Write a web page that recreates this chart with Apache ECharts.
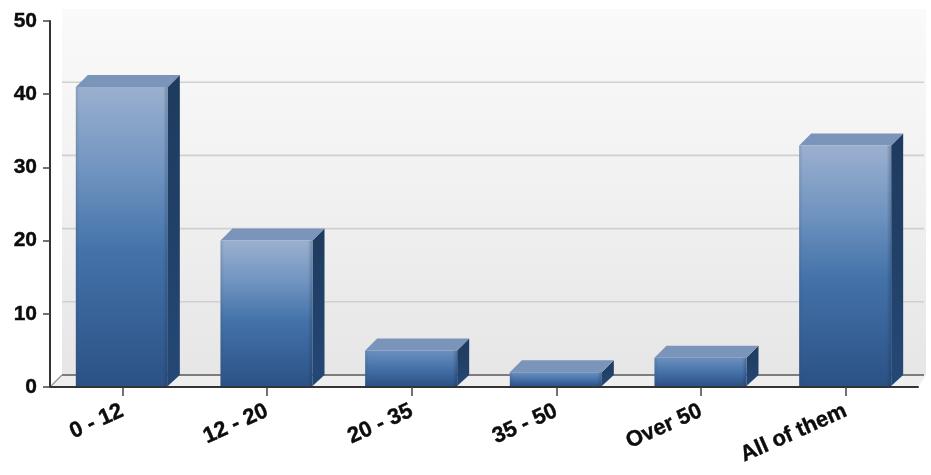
<!DOCTYPE html>
<html><head><meta charset="utf-8">
<style>html,body{margin:0;padding:0;background:#fff}#c{width:931px;height:475px;filter:blur(0.7px)}</style>
<script src="https://cdn.jsdelivr.net/npm/echarts@6/dist/echarts.min.js"></script>
</head><body><div id="c"></div>
<script>
const categories = ['0 - 12','12 - 20','20 - 35','35 - 50','Over 50','All of them'];
const values = [41, 20, 5, 2, 4, 33];
const yTicks = [0, 10, 20, 30, 40, 50];
const DEPTH = 12, BAR_W = 92;
const LG = (x0,y0,x1,y1,stops)=>({type:'linear',x:x0,y:y0,x2:x1,y2:y1,global:false,
  colorStops:stops.map(s=>({offset:s[0],color:s[1]}))});
const chart = echarts.init(document.getElementById('c'),null,{renderer:'canvas'});

function wallItem(params, api){
  const v = api.value(1);
  const p = api.coord([0, v]);
  const left = params.coordSys.x, right = left + params.coordSys.width;
  const children = [];
  if (params.dataIndex === 0){
    const top = params.coordSys.y, bottom = top + params.coordSys.height;
    children.push({type:'rect',shape:{x:left+DEPTH,y:top-DEPTH,width:right-left-DEPTH+8,height:bottom-top},
      style:{fill:LG(0,0,0,1,[[0,'#fafafa'],[0.5,'#f1f1f2'],[1,'#e6e6e7']])}});
    children.push({type:'polygon',shape:{points:[[left,bottom],[left+DEPTH,bottom-DEPTH],[right+8,bottom-DEPTH],[right,bottom]]},
      style:{fill:'#eeeeee'}});
    children.push({type:'line',shape:{x1:left,y1:bottom,x2:left+DEPTH,y2:bottom-DEPTH},style:{stroke:'#9a9a9a',lineWidth:1.5}});
    children.push({type:'line',shape:{x1:left+DEPTH,y1:bottom-DEPTH,x2:right+6,y2:bottom-DEPTH},style:{stroke:'#7d7d7d',lineWidth:2}});
  } else if (v < 50) {
    children.push({type:'line',shape:{x1:left+DEPTH,y1:p[1]-DEPTH,x2:right+6,y2:p[1]-DEPTH},style:{stroke:'#d0d0d0',lineWidth:1.6}});
  }
  return {type:'group',children};
}
function barItem(params, api){
  const c = api.coord([api.value(0), api.value(1)]);
  const base = api.coord([api.value(0), 0]);
  const x0 = c[0] - BAR_W/2 - 0.5, x1 = x0 + BAR_W, yt = c[1], yb = base[1];
  const short = (yb - yt) < 60;
  return {type:'group',children:[
    {type:'polygon',shape:{points:[[x1,yt],[x1+DEPTH,yt-DEPTH],[x1+DEPTH,yb-DEPTH],[x1,yb-1]]},
      style:{fill:LG(0,0,0,1,[[0,'#1f3a5e'],[0.6,'#22426b'],[1,'#244876']])}},
    {type:'polygon',shape:{points:[[x0,yt],[x0+DEPTH,yt-DEPTH],[x1+DEPTH,yt-DEPTH],[x1,yt]]},
      style:{fill:'#7a94ba'}},
    {type:'rect',shape:{x:x0,y:yt,width:BAR_W,height:yb-yt},
      style:{fill:LG(0,0,0,1, short
        ? [[0,'#6c90bf'],[0.5,'#4571a8'],[1,'#2a4f84']]
        : [[0,'#9bb0cf'],[0.28,'#7094c0'],[0.55,'#4372a9'],[1,'#2b5185']])}},
    {type:'rect',shape:{x:x0,y:yt,width:BAR_W,height:yb-yt},
      style:{fill:LG(0,0,1,0,[[0,'rgba(60,70,90,0.2)'],[0.04,'rgba(60,70,90,0)'],[0.95,'rgba(20,40,70,0)'],[1,'rgba(20,40,70,0.3)']])}}
  ]};
}
const labelFont = {fontFamily:'"Liberation Sans",Arial,sans-serif',fontWeight:'bold',color:'#0c0c0c',
  textBorderColor:'#0c0c0c',textBorderWidth:0.4};
chart.setOption({
  animation:false,
  backgroundColor:'#ffffff',
  grid:{left:50,top:21,width:868,height:366,containLabel:false},
  xAxis:{type:'category',data:categories,boundaryGap:true,z:10,
    axisLine:{lineStyle:{color:'#333',width:2}},
    axisTick:{show:true,alignWithLabel:true,length:9,lineStyle:{color:'#444',width:1.5}},
    axisLabel:{...labelFont,fontSize:22,rotate:24,margin:23,interval:0},
    splitLine:{show:false}},
  yAxis:{type:'value',min:0,max:50,interval:10,z:10,
    axisLine:{show:true,lineStyle:{color:'#333',width:2}},
    axisTick:{show:true,length:7,lineStyle:{color:'#444',width:1.5}},
    axisLabel:{...labelFont,fontSize:21,margin:13},
    splitLine:{show:false}},
  series:[
    {type:'custom',name:'wall',coordinateSystem:'cartesian2d',clip:false,z:1,silent:true,
      encode:{x:0,y:1},renderItem:wallItem,
      data:yTicks.map(t=>[0,t])},
    {type:'custom',name:'bars',coordinateSystem:'cartesian2d',clip:false,z:2,
      encode:{x:0,y:1},renderItem:barItem,
      data:values.map((v,i)=>[i,v])}
  ]
});
</script></body></html>
